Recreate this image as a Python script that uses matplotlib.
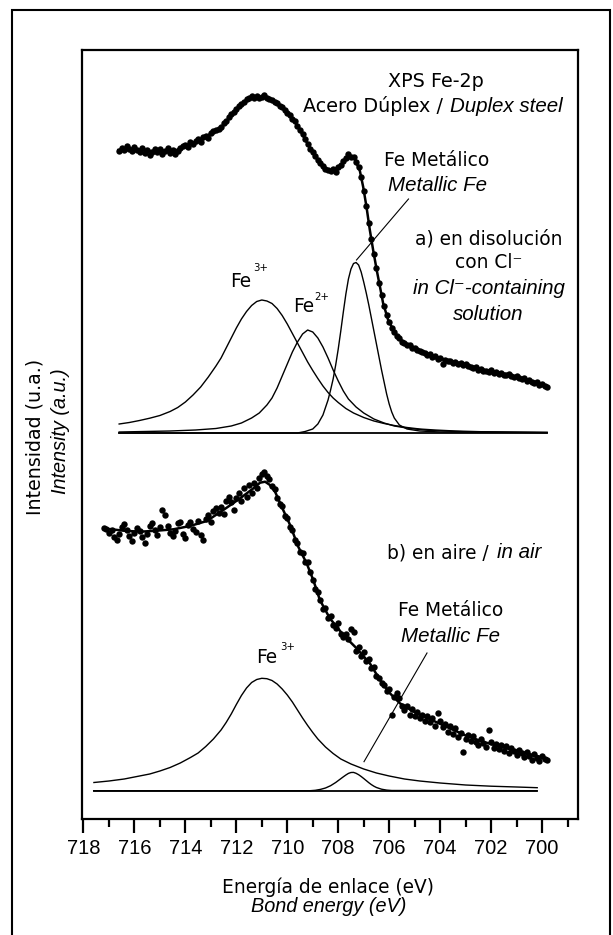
import matplotlib.pyplot as plt
import numpy as np
from matplotlib.patches import Rectangle

# ===== DATOS =====
# Intensidad en unidades arbitrarias (0 = borde inferior del eje)

# a) en disolución con Cl- : puntos medidos, paso 0.1 eV desde 716.6 hasta 699.8
top_points = [
    668, 671, 669, 673, 670, 668, 672, 669, 667, 671,
    666, 669, 664, 667, 670, 667, 670, 665, 668, 671,
    666, 669, 665, 668, 671, 673, 674, 672, 677, 675,
    678, 680, 677, 682, 683, 681, 686, 688, 689, 690,
    692, 696, 698, 702, 705, 707, 710, 713, 715, 717,
    720, 721, 723, 721, 723, 721, 722, 724, 721, 720,
    719, 717, 716, 713, 712, 709, 706, 704, 700, 698,
    693, 689, 685, 680, 675, 670, 667, 663, 659, 656,
    653, 650, 649, 648, 650, 647, 652, 654, 658, 661,
    665, 662, 662, 657, 652, 642, 628, 613, 596, 580,
    565, 551, 536, 524, 513, 504, 497, 491, 487, 483,
    481, 477, 476, 474, 474, 471, 471, 469, 468, 467,
    466, 464, 465, 462, 463, 460, 461, 455, 459, 458,
    458, 456, 457, 455, 456, 454, 455, 453, 452, 451,
    452, 449, 450, 448, 448, 447, 449, 446, 447, 445,
    446, 444, 444, 445, 443, 442, 443, 441, 440, 441,
    438, 439, 437, 436, 437, 434, 435, 433, 432,
]
top_points_e = np.linspace(716.6, 699.8, len(top_points))

# ajuste (envolvente)
top_fit_e = [716.63, 716.04, 715.38, 714.99, 714.53, 714.34, 713.95, 713.42, 713.03,
             712.64, 712.38, 712.12, 711.85, 711.53, 711.20, 710.87, 710.55, 710.16,
             709.83, 709.50, 709.18, 708.85, 708.52, 708.26, 707.93, 707.61, 707.35,
             707.15, 707.02, 706.89, 706.76, 706.63, 706.49, 706.36, 706.24, 706.04,
             705.78, 705.45, 704.93, 704.40, 703.75, 703.10, 702.44, 701.79, 701.14,
             700.49, 699.83]
top_fit_y = [669, 670, 668, 668, 669, 669, 674, 679, 685, 690, 698, 706, 714, 720, 722,
             722, 718, 711, 702, 689, 674, 661, 651, 648, 653, 662, 660, 648, 632, 612,
             589, 569, 549, 532, 516, 499, 486, 477, 470, 464, 459, 455, 450, 447, 443,
             438, 433]

# componentes
top_base_e = [716.6, 699.8]
top_base_y = [386, 386]

top_fe3_e = [716.6, 716.2, 715.8, 715.4, 715.0, 714.6, 714.3, 714.0, 713.7, 713.4,
             713.1, 712.8, 712.6, 712.4, 712.2, 712.0, 711.8, 711.6, 711.4, 711.2,
             711.0, 710.8, 710.6, 710.4, 710.2, 710.0, 709.8, 709.6, 709.4, 709.2,
             709.0, 708.8, 708.6, 708.4, 708.2, 708.0, 707.7, 707.4, 707.0, 706.6,
             706.2, 705.8, 705.3, 704.8, 704.2, 703.4, 702.4, 701.2, 699.8]
top_fe3_y = [395, 396.5, 398.5, 400.8, 403.5, 407.5, 411.5, 417, 424, 432,
             442, 453, 461, 471, 481, 491, 500, 507.5, 513.5, 517.5,
             519, 518, 515.5, 510.5, 503.5, 495, 485.5, 476, 466.5, 457,
             448.5, 440.5, 433, 426.5, 421, 416.5, 410.5, 406, 401.5, 398,
             395.5, 393.5, 391.5, 390, 389, 388, 387.3, 386.8, 386.5]

top_fe2_e = [716.6, 715.6, 714.6, 713.6, 712.8, 712.2, 711.8, 711.4, 711.1, 710.8,
             710.6, 710.4, 710.2, 710.0, 709.8, 709.6, 709.4, 709.2, 709.0, 708.8,
             708.6, 708.4, 708.2, 708.0, 707.8, 707.6, 707.3, 707.0, 706.6, 706.2,
             705.8, 705.2, 704.4, 703.0, 699.8]
top_fe2_y = [387, 387.5, 388, 389, 390.5, 393, 396, 401, 406, 414,
             421, 431, 443, 455, 467, 477, 485, 489, 487, 481,
             472, 461, 449, 438, 428, 420, 412, 406, 400, 396,
             393, 390.5, 388.5, 387.2, 386.5]

top_met_e = [716.6, 709.6, 709.3, 709.0, 708.8, 708.6, 708.4, 708.3, 708.2, 708.1,
             708.0, 707.9, 707.8, 707.7, 707.6, 707.5, 707.4, 707.3, 707.2, 707.1,
             707.0, 706.9, 706.8, 706.7, 706.6, 706.5, 706.4, 706.3, 706.2, 706.1,
             706.0, 705.9, 705.8, 705.6, 705.3, 704.8, 704.0, 699.8]
top_met_y = [386, 386, 387.5, 390, 395, 404, 419, 429, 440, 454,
             470, 488, 507, 525, 540, 550, 555.5, 556.5, 554, 547,
             537, 526, 514, 501, 488, 475, 462, 449, 437, 425,
             415, 407, 401, 394, 390, 388, 387, 386.5]

# b) en aire : puntos medidos, paso 0.1 eV desde 717.2 hasta 699.8
bot_points = [
    291, 290, 286, 289, 282, 279, 285, 292, 295, 289,
    283, 278, 286, 291, 288, 282, 276, 285, 293, 296,
    289, 284, 292, 309, 304, 293, 286, 283, 288, 296,
    297, 285, 281, 294, 297, 290, 287, 298, 284, 279,
    300, 304, 297, 308, 311, 306, 312, 305, 318, 322,
    317, 309, 321, 326, 318, 331, 322, 334, 326, 336,
    331, 341, 345, 347, 343, 340, 333, 330, 321, 315,
    313, 303, 301, 292, 289, 279, 276, 267, 266, 257,
    257, 247, 239, 230, 227, 219, 210, 211, 201, 203,
    194, 191, 196, 185, 182, 185, 180, 190, 187, 168,
    172, 163, 167, 158, 160, 151, 152, 143, 141, 136,
    134, 128, 130, 104, 122, 126, 121, 113, 109, 113,
    104, 110, 103, 107, 101, 104, 98, 103, 97, 101,
    93, 106, 98, 92, 95, 87, 93, 85, 91, 82,
    86, 67, 80, 84, 78, 83, 77, 74, 80, 76,
    72, 89, 77, 71, 75, 70, 74, 68, 73, 66,
    71, 68, 64, 69, 66, 62, 67, 63, 59, 65,
    61, 58, 63, 60, 59,
]
bot_points_e = np.linspace(717.2, 699.8, len(bot_points))

bot_fit_e = [717.22, 716.43, 715.78, 715.12, 714.47, 713.82, 713.16, 712.51, 711.85,
             711.33, 711.07, 710.87, 710.68, 710.48, 710.22, 709.89, 709.57, 709.24,
             708.98, 708.72, 708.33, 707.80, 707.28, 706.76, 706.36, 705.97, 705.58,
             704.93, 704.27, 703.62, 702.96, 702.31, 701.66, 701.00, 700.35, 699.83]
bot_fit_y = [290.7, 288.3, 287.3, 288.3, 289.7, 293, 298, 309, 320.7,
             330.7, 336.3, 337.3, 334, 327.3, 312.3, 294, 272.3, 255.7,
             239, 219, 200.7, 184, 170.7, 155.7, 139, 125.7, 115.7,
             105.7, 98.3, 90.7, 83, 77.3, 72.3, 68.3, 64, 60.7]

bot_base_e = [717.6, 700.2]
bot_base_y = [28.3, 28.3]

bot_fe3_e = [717.59, 717.0, 716.4, 715.9, 715.4, 715.0, 714.6, 714.2, 713.8, 713.5,
             713.2, 712.9, 712.6, 712.4, 712.2, 712.0, 711.8, 711.6, 711.4, 711.2,
             711.0, 710.8, 710.6, 710.4, 710.2, 710.0, 709.8, 709.6, 709.4, 709.2,
             709.0, 708.8, 708.5, 708.2, 707.9, 707.5, 707.0, 706.5, 706.0, 705.4,
             704.8, 704.0, 703.0, 702.0, 701.0, 700.19]
bot_fe3_y = [36.5, 38, 40, 42.5, 45, 48, 51.5, 56, 61.5, 66,
             72.5, 80, 89, 96.5, 105, 114.5, 123.5, 131, 136.5, 139.5,
             140.7, 140.3, 138.5, 135, 130, 124, 117, 109, 101, 93.5,
             86.5, 80, 72, 65.5, 60, 55, 50, 46, 43, 40,
             38, 36, 34, 32.8, 32, 31.3]

bot_met_e = [717.6, 709.1, 708.9, 708.7, 708.5, 708.3, 708.1, 707.9, 707.8, 707.7,
             707.6, 707.5, 707.4, 707.3, 707.2, 707.1, 707.0, 706.9, 706.8, 706.7,
             706.6, 706.5, 706.3, 706.1, 705.9, 700.2]
bot_met_y = [28.3, 28.3, 28.7, 29.6, 31, 33.3, 36.5, 40.3, 42.2, 44,
             45.6, 46.5, 46.6, 45.7, 44.3, 42.5, 40.5, 38.4, 36.3, 34.4,
             32.8, 31.5, 29.8, 28.9, 28.5, 28.3]

# ===== FIGURA =====
W, H = 613, 935
fig = plt.figure(figsize=(W / 100, H / 100), dpi=100)
ax = fig.add_axes([81.7 / W, 1 - 819 / H, (577.7 - 81.7) / W, (819 - 50) / H])

REG = ['DejaVu Sans']
ITA = ['Liberation Sans', 'DejaVu Sans']

dot_kw = dict(ls='none', marker='o', ms=4.6, mfc='black', mec='black', mew=0, zorder=4)
comp_kw = dict(color='black', lw=1.0, zorder=2)

# a)
ax.plot(top_base_e, top_base_y, color='black', lw=1.3, zorder=2)
ax.plot(top_fe3_e, top_fe3_y, **comp_kw)
ax.plot(top_fe2_e, top_fe2_y, **comp_kw)
ax.plot(top_met_e, top_met_y, **comp_kw)
ax.plot(top_fit_e, top_fit_y, color='black', lw=1.8, zorder=3)
ax.plot(top_points_e, top_points, **dot_kw)

# b)
ax.plot(bot_base_e, bot_base_y, color='black', lw=1.3, zorder=2)
ax.plot(bot_fe3_e, bot_fe3_y, **comp_kw)
ax.plot(bot_met_e, bot_met_y, **comp_kw)
ax.plot(bot_fit_e, bot_fit_y, color='black', lw=1.8, zorder=3)
ax.plot(bot_points_e, bot_points, **dot_kw)

# ejes
ax.set_xlim(718.07, 698.6)
ax.set_ylim(0, 769)
ax.set_xticks(np.arange(700, 719, 2))
ax.set_xticks(np.arange(699, 718, 2), minor=True)
ax.set_yticks([])
ax.tick_params(axis='x', which='major', direction='out', length=10, width=1.6, pad=4.5,
               labelsize=14.5)
ax.tick_params(axis='x', which='minor', direction='out', length=5.5, width=1.6)
for lab in ax.get_xticklabels():
    lab.set_family('Liberation Sans')
for sp in ax.spines.values():
    sp.set_linewidth(1.6)

# etiquetas de los ejes
fig.text(35 / W, 1 - 436.5 / H, 'Intensidad (u.a.)', rotation=90, ha='center', va='center',
         family=REG, fontsize=13.7)
fig.text(60 / W, 1 - 431.5 / H, 'Intensity (a.u.)', rotation=90, ha='center', va='center',
         family=ITA, style='italic', fontsize=14.3)
fig.text(328.5 / W, 1 - 887 / H, 'Energía de enlace (eV)', ha='center', va='center',
         family=REG, fontsize=13.4)
fig.text(329 / W, 1 - 907 / H, 'Bond energy (eV)', ha='center', va='center',
         family=ITA, style='italic', fontsize=14.3)

# textos dentro del gráfico (coordenadas en píxeles de la figura)
def ptext(x, y, s, italic=False, size=13.8, **kw):
    fam = ITA if italic else REG
    st = 'italic' if italic else 'normal'
    kw.setdefault('ha', 'center')
    kw.setdefault('va', 'center')
    fig.text(x / W, 1 - y / H, s, family=fam, style=st, fontsize=size, **kw)

ptext(436, 81.7, 'XPS Fe-2p')
ptext(443, 106, 'Acero Dúplex /', ha='right')
ptext(450, 106, 'Duplex steel', italic=True, size=14.8, ha='left')
ptext(437, 161, 'Fe Metálico', size=13.4)
ptext(437, 185.7, 'Metallic Fe', italic=True, size=14.8)
ptext(489, 239, 'a) en disolución', size=13.4)
ptext(488.7, 263, 'con Cl⁻', size=13.4)
ptext(488.5, 289, 'in Cl⁻-containing', italic=True, size=14.8)
ptext(488.7, 314, 'solution', italic=True, size=14.8)

ptext(230.6, 287, 'Fe', size=13.4, ha='left', va='baseline')
ptext(253, 268, '3+', size=7.3, ha='left')
ptext(293, 312, 'Fe', size=13.4, ha='left', va='baseline')
ptext(314.5, 297, '2+', size=7.3, ha='left')

ptext(387, 552.7, 'b) en aire /', size=13.4, ha='left')
ptext(497, 552.7, 'in air', italic=True, size=14.8, ha='left')
ptext(451, 610.7, 'Fe Metálico', size=13.4)
ptext(450.6, 636.7, 'Metallic Fe', italic=True, size=14.8)
ptext(256, 663, 'Fe', size=13.4, ha='left', va='baseline')
ptext(280, 647, '3+', size=7.3, ha='left')

# líneas indicadoras
def pline(x0, y0, x1, y1):
    fig.add_artist(plt.Line2D([x0 / W, x1 / W], [1 - y0 / H, 1 - y1 / H],
                              color='black', lw=0.8))

pline(408.5, 199, 356.5, 260)
pline(427, 653, 364, 761.7)

# marco exterior
fig.add_artist(Rectangle((11.5 / W, -0.02), (609.5 - 11.5) / W, 0.02 + 1 - 9.5 / H,
                         transform=fig.transFigure, fill=False, edgecolor='black', lw=1.5))

fig.savefig('out.png', dpi=100)
